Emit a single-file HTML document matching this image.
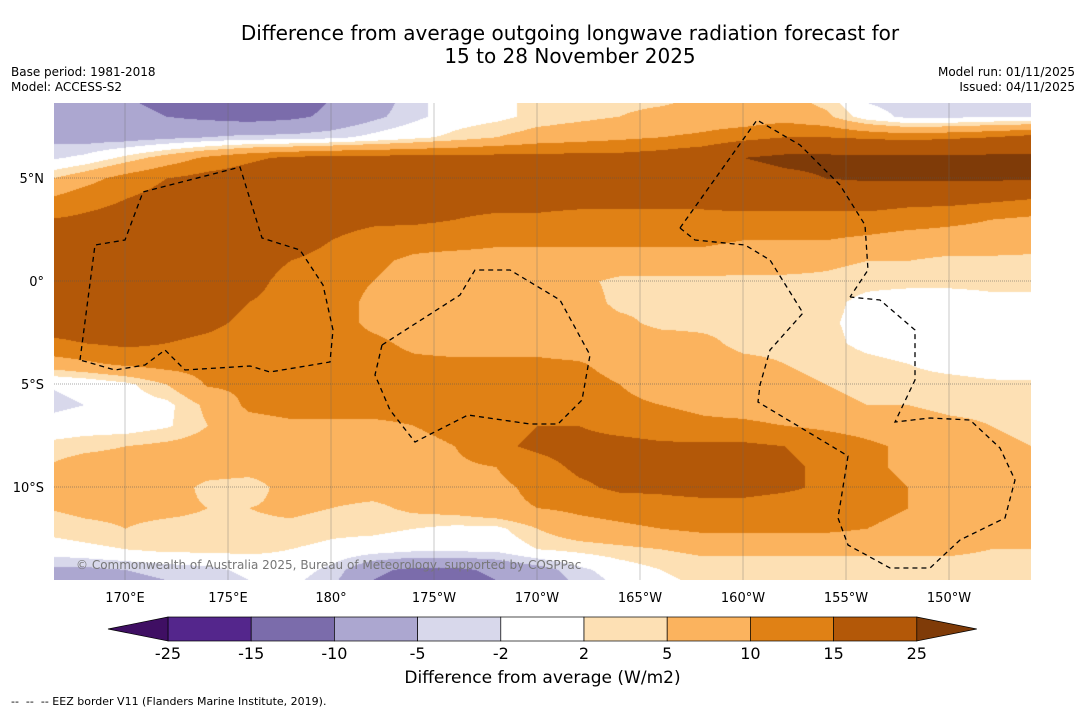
<!DOCTYPE html>
<html><head><meta charset="utf-8">
<style>
body{margin:0;width:1085px;height:713px;background:#fff;font-family:"DejaVu Sans",sans-serif;position:relative;overflow:hidden}
.t{position:absolute;white-space:nowrap;color:#000}
</style></head><body>
<div class="t" style="left:0;width:1140px;text-align:center;top:22px;font-size:20px;line-height:23px">Difference from average outgoing longwave radiation forecast for<br>15 to 28 November 2025</div>
<div class="t" style="left:11px;top:65px;font-size:12px;line-height:15px">Base period: 1981-2018<br>Model: ACCESS-S2</div>
<div class="t" style="right:10px;top:65px;font-size:12px;line-height:15px;text-align:right">Model run: 01/11/2025<br>Issued: 04/11/2025</div>
<canvas id="map" width="977" height="477" style="position:absolute;left:54px;top:103px"></canvas>
<svg id="ov" width="1085" height="713" style="position:absolute;left:0;top:0"></svg>
<div class="t" style="left:76px;top:558px;font-size:12px;color:#777">© Commonwealth of Australia 2025, Bureau of Meteorology, supported by COSPPac</div>
<div class="t" style="left:0;width:1085px;text-align:center;top:668px;font-size:17px">Difference from average (W/m2)</div>
<div class="t" style="left:11px;top:695px;font-size:11px">--&nbsp; --&nbsp; -- EEZ border V11 (Flanders Marine Institute, 2019).</div>
<script>
// data
const lats=[9,8,7,6,5,4,3,2,1,0,-1,-2,-3,-4,-5,-6,-7,-8,-9,-10,-11,-12,-13,-14,-15];
const lons=[166,168,170,172,174,176,178,180,182,184,186,188,190,192,194,196,198,200,202,204,206,208,210,212,214];
const field=[
[-9,-9,-10,-11,-12,-14,-13,-10,-8,-3,0,1,3,3,4,4,5,5,6,3,-3,-4,-4,-3,-3],
[-8,-8,-9,-10,-11,-12,-11,-9,-6,-3,0,1,3,4,5,6,7,7,8,6,0,-3,-3,-2,-2],
[-6,-7,-7,-6,-5,-4,-4,-3,-1,1,3,5,7,8,9,10,11,13,15,15,14,13,14,15,17],
[-3,-1,3,7,11,14,16,17,17,17,17,17,17,17,17,18,20,25,27,27,27,27,27,27,27],
[4,8,12,15,17,18,19,19,19,19,19,18,18,18,18,19,19,21,23,25,26,26,26,26,26],
[10,13,15,17,18,18,18,18,17,17,17,17,17,17,17,17,17,18,18,18,18,17,17,16,15],
[15,16,17,18,18,18,18,17,16,16,15,14,14,13,13,13,13,13,13,13,13,12,11,10,9],
[17,18,18,19,19,19,18,15,13,12,12,11,11,11,11,11,11,10,10,10,9,8,8,8,7],
[18,18,19,19,19,18,15,13,11,9,8,8,8,8,8,8,8,7,7,6,5,5,4,4,4],
[18,18,19,19,19,17,13,12,10,8,7,7,7,6,4,4,4,4,4,4,3,3,3,3,3],
[18,18,19,18,17,15,13,12,9,8,7,7,7,7,4,4,4,4,3.5,3,1,0,0,1,1],
[17,17,18,17,16,14,13,12,9,8,7,7,7,7,6,4,4,4,4,2.5,1,0,0,0,0],
[14,15,16,15,14,13,13,12,11,9,8,8,8,7,7,7,6,4,4,3,1,0,0,0,0],
[7,9,11,12,12,12,12,12,12,11,11,11,11,10.5,8,7,7,6,5,4,3,2,1,0.5,0],
[-2,-1,1,5,10.5,11,12,12,12,12,12,12,12,12,10,8,7,7,6,5,4,3,3,2.5,2.5],
[-3,-2,0,1,6,11,12,12,12,12,12,12,12,12,11,10,9,8,7,6,5,5,4,4,3.5],
[-1,0,0,1.5,5,8,9,9,9,10,11,13,15,15,13,12,11,11,10,9,8,7,6,5,4],
[3,4,5,6,7,7,7,7,8,9,10,14,16,17,17,16,16,16,15,13,11,9,7,6,5],
[5,7,7,7,7,7,7,7,7,8,9,10,13,16,17,17,17,17,16,14,11,9,7,6,5],
[5,7,7,7,4,3,7,7,7,7,8,9,11,14,16,16,17,17,16,14,12,10,7,6,5],
[5,6,6,6,5,5,6,5,4,6,7,9,10,11,12,13,13,13,12,12,12,10,7,6,5],
[3,4,5,4,4,4,4,3,3,2,1,1,5,8,9,10,11,11,11,11,10,8,7,6,5],
[0,1,2,3,3,3,2,1,0,-1,-1,-1,2,3,4,5,6,6,6,6,6,6,6,5,5],
[-6,-6,-5,-4,-3,-1,0,-3,-9,-11,-11,-9,-7,-3,0,2,3,3,3,3,3,3,3,3,3],
[-8,-8,-7,-6,-5,-3,-2,-5,-11,-13,-13,-11,-9,-5,-2,1,2,2,2,2,2,2,2,2,2]];
const levels=[-25,-15,-10,-5,-2,2,5,10,15,25];
const levelLabels=["-25","-15","-10","-5","-2","2","5","10","15","25"];
const bandColors=["#3f0f63","#54268c","#7b6cab","#aca7d0","#d8d8eb","#ffffff","#fde0b4","#fbb35e","#e08115","#b35808","#7f3b08"];
const lonTicks=[170,175,180,185,190,195,200,205,210];
const lonTickLabels=["170°E","175°E","180°","175°W","170°W","165°W","160°W","155°W","150°W"];
const latTicks=[5,0,-5,-10];
const latTickLabels=["5°N","0°","5°S","10°S"];

const X0=54,Y0=103,W=977,H=477;
const xOf=lon=>125+(lon-170)*20.6;
const yOf=lat=>281-lat*20.6;
const lonOf=x=>170+(x-125)/20.6;
const latOf=y=>(281-y)/20.6;
function hex(c){return [parseInt(c.slice(1,3),16),parseInt(c.slice(3,5),16),parseInt(c.slice(5,7),16)];}
const rgb=bandColors.map(hex);
function band(v){let i=0;while(i<levels.length&&v>=levels[i])i++;return i;}
function val(lat,lon){
  let fi=(lats[0]-lat)/(lats[0]-lats[1]);let fj=(lon-lons[0])/(lons[1]-lons[0]);
  fi=Math.max(0,Math.min(lats.length-1.001,fi));fj=Math.max(0,Math.min(lons.length-1.001,fj));
  const i=Math.floor(fi),j=Math.floor(fj),a=fi-i,b=fj-j;
  return field[i][j]*(1-a)*(1-b)+field[i+1][j]*a*(1-b)+field[i][j+1]*(1-a)*b+field[i+1][j+1]*a*b;
}
const cv=document.getElementById('map'),ctx=cv.getContext('2d');
const img=ctx.createImageData(W,H);
for(let py=0;py<H;py++){const la=latOf(py+Y0);for(let px=0;px<W;px++){
  const c=rgb[band(val(la,lonOf(px+X0)))];const k=(py*W+px)*4;
  img.data[k]=c[0];img.data[k+1]=c[1];img.data[k+2]=c[2];img.data[k+3]=255;}}
ctx.putImageData(img,0,0);

const NS='http://www.w3.org/2000/svg',svg=document.getElementById('ov');
function mk(t,a,txt){const e=document.createElementNS(NS,t);for(const k in a)e.setAttribute(k,a[k]);if(txt!==undefined)e.textContent=txt;svg.appendChild(e);return e;}
lonTicks.forEach((l,i)=>{const x=xOf(l);
  const g=mk('line',{x1:x,y1:Y0,x2:x,y2:Y0+H,stroke:'#666','stroke-width':0.5,'stroke-opacity':0.7});
  
  
  const t=mk('text',{x:x,y:602,'font-size':13,'text-anchor':'middle','font-family':'DejaVu Sans'},lonTickLabels[i]);
  
  });
latTicks.forEach((l,i)=>{const y=yOf(l);
  const g=mk('line',{x1:X0,y1:y,x2:X0+W,y2:y,stroke:'#555','stroke-width':0.6,'stroke-dasharray':'1,1'});
  
  
  const t=mk('text',{x:44,y:y+5,'font-size':13,'text-anchor':'end','font-family':'DejaVu Sans'},latTickLabels[i]);
  
  });
// EEZ borders (geographic outlines)
const eez=["M80,360 L95,245 L125,240 L143,192 L240,167 L262,238 L300,250 L323,285 L333,330 L330,362 L270,372 L250,366 L185,370 L165,350 L145,365 L115,370 Z",
"M382,345 L460,295 L475,270 L510,270 L560,300 L590,355 L582,400 L558,424 L530,424 L468,415 L415,442 L390,410 L375,375 Z",
"M680,228 L757,120 L800,145 L840,185 L865,225 L868,270 L850,297 M680,228 L695,240 L745,245 L770,260 L803,313 L770,350 L760,385 L758,402 L848,456 L838,518 L848,545 L890,568 L930,568 L960,540 L1005,518 L1015,480 L1000,448 L970,420 L930,418 L895,422 L915,380 L915,330 L880,300 L850,297"];
eez.forEach(d=>{const p=mk('path',{d:d,fill:'none',stroke:'#000','stroke-width':1.3,'stroke-dasharray':'5,4'});
  
  });
// colorbar
const cbX=168,cbW=83.2,cbY=617,cbH=24;
for(let i=0;i<levels.length-1;i++){
  const r=mk('rect',{x:cbX+i*cbW,y:cbY,width:cbW,height:cbH,fill:bandColors[i+1],stroke:'#000','stroke-width':0.7});
  
  }
levels.forEach((l,i)=>{const t=mk('text',{x:cbX+i*cbW,y:659,'font-size':16,'text-anchor':'middle','font-family':'DejaVu Sans'},levelLabels[i]);
  
  });
const end=cbX+(levels.length-1)*cbW;
const lt=mk('polygon',{points:`${cbX},${cbY} 108,${cbY+cbH/2} ${cbX},${cbY+cbH}`,fill:bandColors[0],stroke:'#000','stroke-width':0.7});


const rt=mk('polygon',{points:`${end},${cbY} ${end+60},${cbY+cbH/2} ${end},${cbY+cbH}`,fill:bandColors[10],stroke:'#000','stroke-width':0.7});


</script>
</body></html>
